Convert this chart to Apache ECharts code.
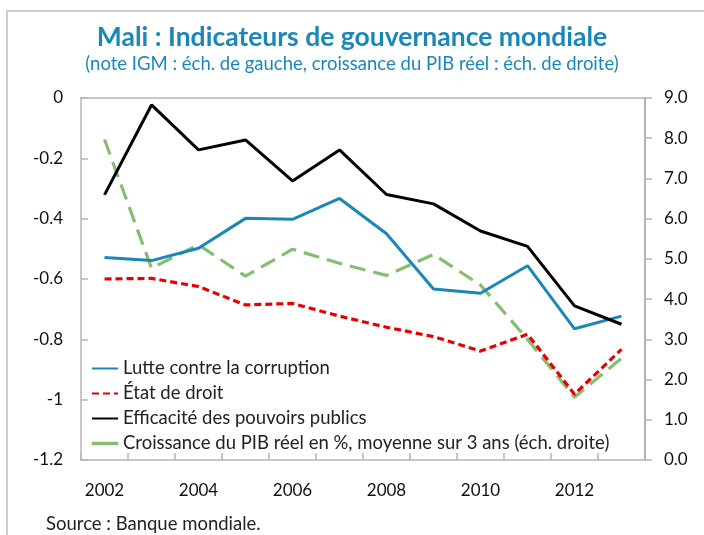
<!DOCTYPE html>
<html><head><meta charset="utf-8">
<script src="https://cdn.jsdelivr.net/npm/echarts@6/dist/echarts.min.js"></script>
<style>html,body{margin:0;padding:0;background:#fff}#c{width:704px;height:535px}</style>
</head><body><div id="c"></div>
<script>
const years = ['2002','2003','2004','2005','2006','2007','2008','2009','2010','2011','2012','2013'];
const corruption = [-0.529,-0.539,-0.498,-0.399,-0.402,-0.333,-0.450,-0.633,-0.647,-0.556,-0.765,-0.723];
const etatDroit = [-0.600,-0.598,-0.625,-0.686,-0.681,-0.723,-0.760,-0.791,-0.839,-0.783,-0.982,-0.833];
const efficacite = [-0.321,-0.023,-0.172,-0.139,-0.275,-0.172,-0.320,-0.351,-0.441,-0.492,-0.689,-0.750];
const croissance = [7.97,4.77,5.35,4.57,5.24,4.89,4.59,5.11,4.35,3.0,1.56,2.53];
const names = ['Lutte contre la corruption','État de droit','Efficacité des pouvoirs publics','Croissance du PIB réel en %, moyenne sur 3 ans (éch. droite)'];
const FONT = 'Lato';
const chart = echarts.init(document.getElementById('c'));
chart.setOption({
  animation:false,
  backgroundColor:'#fff',
  textStyle:{fontFamily:FONT},
  title:{
    text:'Mali : Indicateurs de gouvernance mondiale',
    subtext:'(note IGM : éch. de gauche, croissance du PIB réel : éch. de droite)',
    left:'center', top:19, itemGap:4,
    textStyle:{fontFamily:FONT,fontSize:26.5,fontWeight:'bold',color:'#1a87b8'},
    subtextStyle:{fontFamily:FONT,fontSize:18.5,color:'#1a87b8'}
  },
  graphic:[
    {type:'rect',shape:{x:7,y:11,width:800,height:600},style:{fill:'none',stroke:'#bdbdbd',lineWidth:1.5},silent:true},
    {type:'text',left:46,top:515,style:{text:'Source : Banque mondiale.',fontFamily:FONT,fontSize:18.5,fill:'#222'}}
  ],
  legend:{
    orient:'vertical', left:86, top:353, itemWidth:26, itemHeight:14, itemGap:4,
    itemStyle:{opacity:0},
    textStyle:{fontFamily:FONT,fontSize:18.5,color:'#222',lineHeight:21},
    data:[
      {name:names[0]},{name:names[1]},{name:names[2]},
      {name:names[3],icon:'path://M0,0H26V3H0Z',
       itemStyle:{opacity:1,color:'#86bd72',borderColor:'#86bd72',borderWidth:0.5,borderType:'solid'},
       lineStyle:{type:'solid'}}
    ]
  },
  grid:{left:81,right:59,top:98,bottom:75},
  xAxis:[
    {type:'category',data:years,position:'bottom',boundaryGap:true,
     axisLine:{show:true,lineStyle:{color:'#b5b5b5',width:1.5}},
     axisTick:{show:false},
     axisLabel:{interval:1,margin:22,fontSize:17,color:'#111',fontFamily:FONT}},
    {type:'category',data:years,position:'top',boundaryGap:true,
     axisLine:{show:true,lineStyle:{color:'#b5b5b5',width:1.5}},
     axisTick:{show:true,inside:false,length:7,interval:0,lineStyle:{color:'#b5b5b5',width:1.5}},
     axisLabel:{show:false}}
  ],
  yAxis:[
    {type:'value',min:-1.2,max:0,interval:0.2,position:'left',
     axisLine:{show:true,lineStyle:{color:'#b5b5b5',width:1.5}},
     axisTick:{show:true,inside:true,length:7,lineStyle:{color:'#b5b5b5',width:1.5}},
     splitLine:{show:false},
     axisLabel:{margin:18,fontSize:17,color:'#111',fontFamily:FONT}},
    {type:'value',min:0,max:9,interval:1,position:'right',
     axisLine:{show:true,lineStyle:{color:'#999',width:1.5}},
     axisTick:{show:true,inside:false,length:7,lineStyle:{color:'#b5b5b5',width:1.5}},
     splitLine:{show:false},
     axisLabel:{margin:19,fontSize:17,color:'#111',fontFamily:FONT,formatter:v=>v.toFixed(1)}}
  ],
  series:[
    {name:names[0],type:'line',data:corruption,yAxisIndex:0,symbol:'none',
     lineStyle:{color:'#1a87b8',width:3},itemStyle:{color:'#1a87b8'},z:3},
    {name:names[1],type:'line',data:etatDroit,yAxisIndex:0,symbol:'none',
     lineStyle:{color:'#e60000',width:3.2,type:[7,4]},itemStyle:{color:'#e60000'},z:4},
    {name:names[2],type:'line',data:efficacite,yAxisIndex:0,symbol:'none',
     lineStyle:{color:'#000',width:3},itemStyle:{color:'#000'},z:3},
    {name:names[3],type:'line',data:croissance,yAxisIndex:1,symbol:'none',
     lineStyle:{color:'#86bd72',width:3.2,type:[16,8]},itemStyle:{color:'#86bd72'},z:2}
  ]
});
</script></body></html>
